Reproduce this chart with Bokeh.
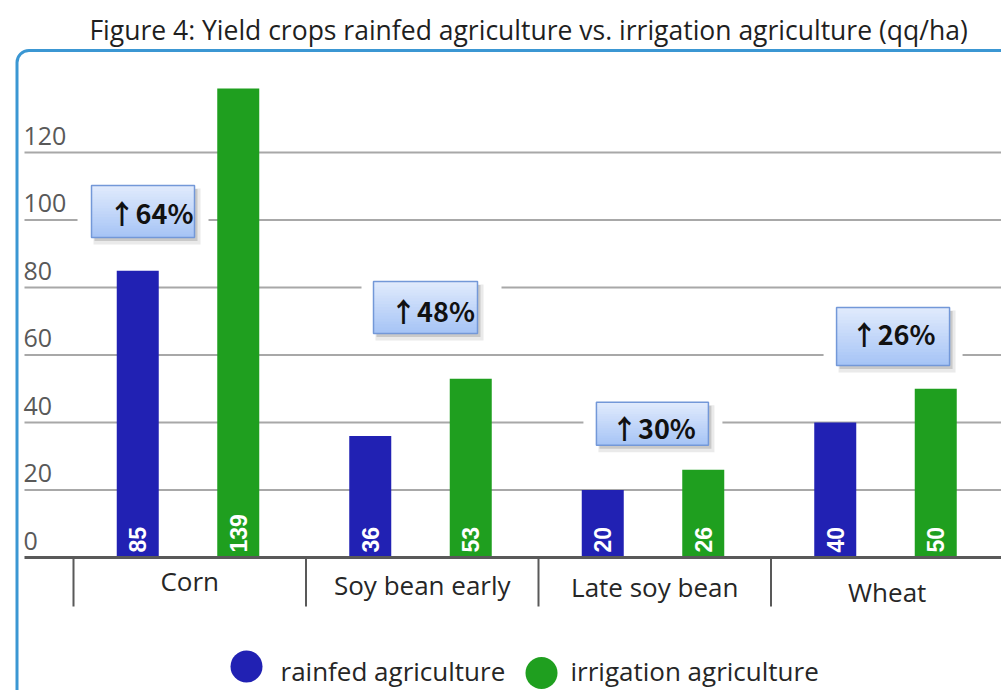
import numpy as np
from bokeh.plotting import figure
from bokeh.models import Range1d
from bokeh.core.properties import value
from bokeh.embed import file_html
from bokeh.resources import INLINE

# ---------------- data ----------------
title_text = "Figure  4: Yield crops rainfed agriculture vs. irrigation agriculture (qq/ha)"
categories = ["Corn", "Soy bean early", "Late soy bean", "Wheat"]
rainfed = [85, 36, 20, 40]
irrigation = [139, 53, 26, 50]
increase_labels = ["\u219164%", "\u219148%", "\u219130%", "\u219126%"]
y_ticks = [0, 20, 40, 60, 80, 100, 120]
series_names = ["rainfed agriculture", "irrigation agriculture"]

# ---------------- layout (page pixels) ----------------
W, H = 1001, 690
MARGIN = 0
X0, PXX = 73.0, 232.5    # page x of first category edge, px per category
Y0, PXY = 557.0, 3.375   # page y of value 0, px per unit
BASE_FIX = 11            # empirical shift for alphabetic baseline

BLUE = "#2121b3"
GREEN = "#1f9f1f"
FONT = "Open Sans"


def dx(X):
    return (X - X0) / PXX


def dy(Y):
    return (Y0 - Y) / PXY


p = figure(width=W, height=H, output_backend="svg", toolbar_location=None,
           x_range=Range1d(dx(MARGIN), dx(MARGIN + W)),
           y_range=Range1d(dy(MARGIN + H), dy(MARGIN)),
           x_axis_type=None, y_axis_type=None, min_border=0,
           background_fill_color="white", border_fill_color="white")
p.outline_line_color = None

n = len(categories)
centers = np.arange(n) + 0.5
edges = np.arange(n)
rain_x = centers - 52 / PXX
irr_x = centers + 48.5 / PXX
bar_w = 42 / PXX

# outer rounded frame
p.quad(left=[dx(16.5)], right=[dx(1200)], top=[dy(50)], bottom=[dy(900)],
       fill_color=None, line_color="#3b97d3", line_width=3, border_radius=12)

# title
p.text(x=[dx(531.5)], y=[dy(29)], text=[title_text], text_align="center",
       text_baseline="middle", text_font=value(FONT), text_font_size="26.5px",
       text_color="#1f1f1f")

# gridlines
grid_ticks = [t for t in y_ticks if t > 0]
p.segment(x0=[dx(24)] * len(grid_ticks), x1=[dx(1010)] * len(grid_ticks),
          y0=grid_ticks, y1=grid_ticks, line_color="#a8a8a8", line_width=2)

# y tick labels (above gridlines)
p.text(x=[dx(23)] * len(y_ticks), y=[t + 17 / PXY for t in y_ticks],
       text=[str(t) for t in y_ticks], text_align="left", text_baseline="middle",
       text_font=value(FONT), text_font_size="25px", text_color="#595959")

# annotation boxes geometry
box_dx = np.array([-0.201, 0.014, -0.010, 0.025])
box_y = np.array([102.5, 74.1, 39.6, 65.5])
box_w = np.array([103, 104, 112, 113])
box_h = np.array([52, 52, 43, 58])
pad_l = np.array([14, 12, 13, 13])
pad_r = np.array([14, 24, 14, 13])
txt_dx = np.array([8, 7, 1, 0])
txt_dy = np.array([1, 3, 4, -3])
bx = centers + box_dx

# white gaps in gridlines around boxes
p.rect(x=bx + (pad_r - pad_l) / 2 / PXX, y=box_y, width=box_w + pad_l + pad_r,
       height=box_h + 10, width_units="screen", height_units="screen",
       fill_color="white", line_color=None)

# bars
p.vbar(x=rain_x, top=rainfed, bottom=0, width=bar_w, fill_color=BLUE, line_color=None)
p.vbar(x=irr_x, top=irrigation, bottom=0, width=bar_w, fill_color=GREEN, line_color=None)

# value labels inside bars
p.text(x=rain_x, y=[5 / PXY] * n, text=[str(v) for v in rainfed], angle=np.pi / 2,
       text_align="left", text_baseline="middle", text_color="white",
       text_font=value("Liberation Sans"), text_font_style="bold",
       text_font_size="23px")
p.text(x=irr_x, y=[5 / PXY] * n, text=[str(v) for v in irrigation], angle=np.pi / 2,
       text_align="left", text_baseline="middle", text_color="white",
       text_font=value("Liberation Sans"), text_font_style="bold",
       text_font_size="23px")

# x axis line and category separators
p.segment(x0=[dx(24)], x1=[dx(1010)], y0=[0], y1=[0], line_color="#595959", line_width=3)
p.segment(x0=edges, x1=edges, y0=[0] * n, y1=[dy(606)] * n,
          line_color="#595959", line_width=2)

# category labels
cat_base = [591, 595, 597, 602]
p.text(x=centers, y=[dy(b - BASE_FIX) for b in cat_base], text=categories,
       text_align="center", text_baseline="alphabetic", text_font=value(FONT),
       text_font_size="26px", text_color="#262626")

# box shadows
p.rect(x=bx + 4 / PXX, y=box_y - 5 / PXY, width=box_w + 4, height=box_h + 4,
       width_units="screen", height_units="screen",
       fill_color="#8c8c8c", fill_alpha=0.18, line_color=None)
p.rect(x=bx + 3 / PXX, y=box_y - 3.5 / PXY, width=box_w, height=box_h,
       width_units="screen", height_units="screen",
       fill_color="#8c8c8c", fill_alpha=0.35, line_color=None)

# gradient fill (strips)
NS = 18
top_c = np.array([226, 236, 253])
bot_c = np.array([166, 196, 246])
sx, sy, sw, sh, sc = [], [], [], [], []
for i in range(n):
    for k in range(NS):
        f = (k + 0.5) / NS
        c = (top_c * (1 - f) + bot_c * f).astype(int)
        sx.append(bx[i])
        sy.append(box_y[i] + (box_h[i] / 2 - f * box_h[i]) / PXY)
        sw.append(box_w[i])
        sh.append(box_h[i] / NS + 0.8)
        sc.append("#%02x%02x%02x" % tuple(c))
p.rect(x=sx, y=sy, width=sw, height=sh, width_units="screen", height_units="screen",
       fill_color=sc, line_color=None)
p.rect(x=bx, y=box_y, width=box_w, height=box_h, width_units="screen",
       height_units="screen", fill_color=None, line_color="#7398d8", line_width=1.5)
p.text(x=bx + txt_dx / PXX, y=box_y - txt_dy / PXY, text=increase_labels,
       text_align="center", text_baseline="middle",
       text_font=value("Noto Sans CJK SC"),
       text_font_style="bold", text_font_size="27px", text_color="#111111")

# legend
p.scatter(x=[dx(246), dx(541)], y=[dy(666), dy(672.5)], size=32,
          fill_color=[BLUE, GREEN], line_color=None, marker="circle")
p.text(x=[dx(280), dx(570)], y=[dy(681 - BASE_FIX), dy(681 - BASE_FIX)], text=series_names,
       text_align="left", text_baseline="alphabetic", text_font=value(FONT),
       text_font_size="26px", text_color="#262626")

open("out.html", "w").write(file_html(p, INLINE))
